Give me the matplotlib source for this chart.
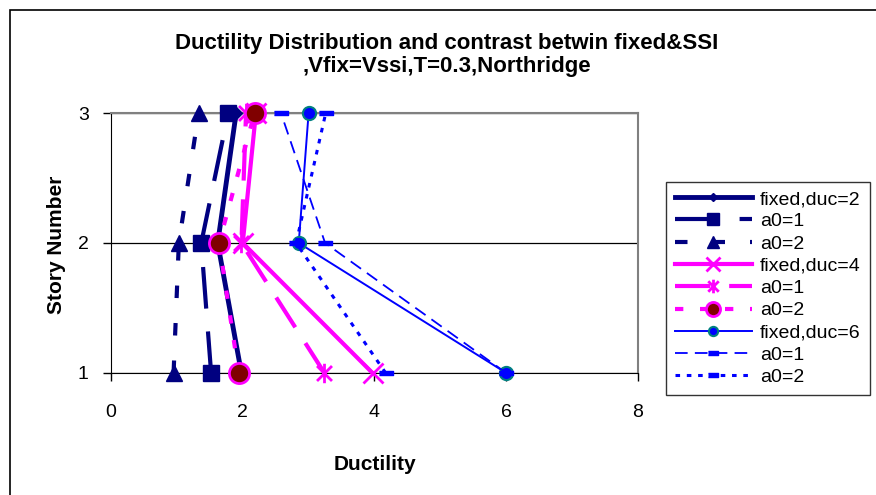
import matplotlib
matplotlib.use("Agg")
import matplotlib.pyplot as plt
from matplotlib.path import Path
from matplotlib.patches import Rectangle

plt.rcParams['font.family'] = ['Liberation Sans', 'DejaVu Sans']

# story numbers and ductility values
stories = [1, 2, 3]
fixed_duc2 = [1.98, 1.62, 1.90]
duc2_a1 = [1.52, 1.37, 1.78]
duc2_a2 = [0.95, 1.03, 1.33]
fixed_duc4 = [3.97, 2.00, 2.20]
duc4_a1 = [3.24, 1.98, 2.05]
duc4_a2 = [1.94, 1.64, 2.18]
fixed_duc6 = [6.00, 2.85, 3.00]
duc6_a1 = [6.00, 3.25, 2.58]
duc6_a2 = [4.17, 2.81, 3.26]

labels = ['fixed,duc=2', 'a0=1', 'a0=2',
          'fixed,duc=4', 'a0=1', 'a0=2',
          'fixed,duc=6', 'a0=1', 'a0=2']

navy = '#000080'
magenta = '#FF00FF'
blue = '#0000FF'

# excel-like markers
star = Path([(-1, -1), (1, 1), (-1, 1), (1, -1), (0, -1.3), (0, 1.3)],
            [Path.MOVETO, Path.LINETO, Path.MOVETO, Path.LINETO, Path.MOVETO, Path.LINETO])
dash_mark = [(-1, -0.35), (1, -0.35), (1, 0.35), (-1, 0.35)]

fig = plt.figure(figsize=(8.76, 4.95), dpi=100)
ax = fig.add_axes([0.1267, 0.2465, 0.6016, 0.5252])

series = [
    (fixed_duc2, dict(color=navy, lw=3.5, ls='-', marker='D', ms=6, mfc=navy, mec=navy)),
    (duc2_a1, dict(color=navy, lw=3.0, ls=(0, (10, 5.5)), marker='s', ms=12, mfc=navy, mec=navy)),
    (duc2_a2, dict(color=navy, lw=3.0, ls=(0, (3, 6)), marker='^', ms=12, mfc=navy, mec=navy)),
    (fixed_duc4, dict(color=magenta, lw=3.0, ls='-', marker='x', ms=14, mew=2, mec=magenta)),
    (duc4_a1, dict(color=magenta, lw=3.0, ls=(0, (8.5, 4.5)), marker=star, ms=14, mew=2,
                   mec=magenta, mfc='none')),
    (duc4_a2, dict(color=magenta, lw=3.0, ls=(0, (2, 4)), marker='o', ms=14.5, mew=2,
                   mfc='#800000', mec=magenta)),
    (fixed_duc6, dict(color=blue, lw=1.4, ls='-', marker='o', ms=9.5, mew=1.5,
                      mfc=blue, mec='#008080')),
    (duc6_a1, dict(color=blue, lw=1.3, ls=(0, (7, 4)), marker=dash_mark, ms=10,
                   mfc=blue, mec=blue)),
    (duc6_a2, dict(color=blue, lw=2.2, ls=(0, (1.5, 2.2)), marker=dash_mark, ms=10,
                   mfc=blue, mec=blue)),
]

for (vals, style), lab in zip(series, labels):
    ax.plot(vals, stories, label=lab, clip_on=False, zorder=3, **style)

ax.set_xlim(0, 8)
ax.set_ylim(1, 3)
ax.set_xticks([0, 2, 4, 6, 8])
ax.set_yticks([1, 2, 3])
ax.tick_params(direction='out', length=6, width=1, labelsize=14)
ax.tick_params(axis='y', pad=10)
ax.tick_params(axis='x', pad=16)
ax.yaxis.grid(True, color='black', lw=0.9)
ax.spines['top'].set_color('#808080')
ax.spines['right'].set_color('#808080')
ax.spines['top'].set_linewidth(1.5)
ax.spines['right'].set_linewidth(1.5)

fig.text(0.428, 0.061, 'Ductility', ha='center', va='center', fontsize=15, fontweight='bold')
fig.text(0.065, 0.505, 'Story Number', ha='center', va='center', rotation=90,
         fontsize=15, fontweight='bold')
fig.text(0.51, 0.889, 'Ductility Distribution and contrast betwin fixed&SSI\n,Vfix=Vssi,T=0.3,Northridge',
         ha='center', va='center', fontsize=16, fontweight='bold', linespacing=1.15)

leg = fig.legend(loc='upper left', bbox_to_anchor=(0.760, 0.633), fontsize=14,
                 frameon=True, fancybox=False, edgecolor='black', handlelength=4.0,
                 handletextpad=0.4, labelspacing=0.24, borderpad=0.45, borderaxespad=0,
                 markerscale=0.7)
leg.get_frame().set_linewidth(1)

# outer chart border
fig.patches.append(Rectangle((9.5 / 876, -0.05), 1.0, 1 - 10 / 495 + 0.05,
                             transform=fig.transFigure, fill=False, lw=1.2,
                             edgecolor='black'))

fig.savefig('out.png', dpi=100)
